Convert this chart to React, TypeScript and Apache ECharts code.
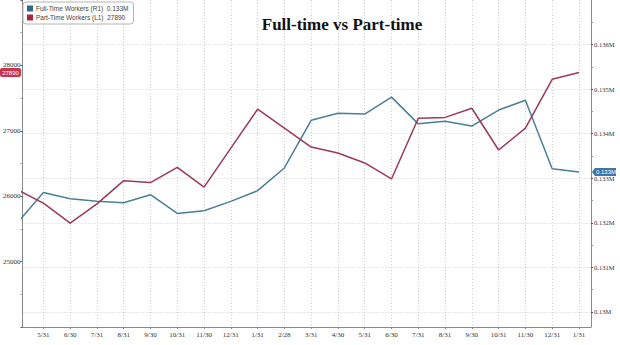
import React, { useEffect, useRef } from 'react';
import * as echarts from 'echarts';

const months = ['4/30', '5/31', '6/30', '7/31', '8/31', '9/30', '10/31', '11/30', '12/31', '1/31', '2/28', '3/31', '4/30', '5/31', '6/30', '7/31', '8/31', '9/30', '10/31', '11/30', '12/31', '1/31'];
// Full-time workers, millions (right axis)
const fullTime = [0.13198, 0.13268, 0.13254, 0.13248, 0.13245, 0.13263, 0.13221, 0.13227, 0.13248, 0.13272, 0.13323, 0.1343, 0.13446, 0.13444, 0.13482, 0.13422, 0.13428, 0.13417, 0.13453, 0.13475, 0.13321, 0.13314];
// Part-time workers (left axis)
const partTime = [26104, 25894, 25589, 25883, 26238, 26208, 26442, 26138, 26736, 27330, 27041, 26751, 26660, 26508, 26264, 27193, 27205, 27345, 26706, 27041, 27787, 27890];
const leftTicks = [24000, 25000, 26000, 27000, 28000, 29000];
const rightTicks = [0.13, 0.131, 0.132, 0.133, 0.134, 0.135, 0.136];
const rightMinor = [0.1295, 0.1305, 0.1315, 0.1325, 0.1335, 0.1345, 0.1355, 0.1365];
const labelIdx = months.map((_, i) => i).slice(1);

const fullName = 'Full-Time Workers (R1)';
const partName = 'Part-Time Workers (L1)';
const fullLast = fullTime[fullTime.length - 1];
const partLast = partTime[partTime.length - 1];
const fmtM = (v: number) => `${+v.toFixed(3)}M`;

const BLUE = '#4a7f98';
const RED = '#9c3a58';

export default function App() {
  const ref = useRef<HTMLDivElement>(null);
  useEffect(() => {
    const chart = echarts.init(ref.current!, null, { renderer: 'svg' });
    const axisFont = 'Liberation Serif';
    chart.setOption({
      animation: false,
      backgroundColor: '#ffffff',
      grid: { left: 22, right: 29, top: 0, bottom: 18 },
      legend: {
        orient: 'vertical',
        left: 23,
        top: 2,
        padding: [3, 5, 3, 4],
        itemGap: 2,
        itemWidth: 6,
        itemHeight: 6,
        icon: 'rect',
        backgroundColor: '#ffffff',
        borderColor: '#b5b5b5',
        borderWidth: 1,
        borderRadius: 3,
        data: [
          { name: fullName, itemStyle: { color: '#2f6a8c' } },
          { name: partName, itemStyle: { color: '#a52640' } },
        ],
        formatter: (name: string) =>
          name === fullName ? `${name}  ${fmtM(fullLast)}` : `${name}  ${partLast}`,
        textStyle: { fontSize: 6.5, color: '#444', fontFamily: 'Liberation Sans', padding: [0, 0, 0, -2] },
      },
      xAxis: {
        type: 'value',
        min: 0.22,
        max: 21.45,
        axisLine: { show: true, lineStyle: { color: '#8a8a8a', width: 1 } },
        axisTick: { show: true, customValues: labelIdx, length: 2, lineStyle: { color: '#8a8a8a' } },
        axisLabel: {
          customValues: labelIdx,
          formatter: (v: number) => months[Math.round(v)],
          fontSize: 7,
          color: '#333',
          fontFamily: axisFont,
          margin: 4,
        },
        splitLine: { show: true, lineStyle: { color: '#d0d0d0', type: [1, 2], width: 1 } },
      },
      yAxis: [
        {
          type: 'value',
          position: 'left',
          min: leftTicks[0],
          max: leftTicks[leftTicks.length - 1],
          interval: 1000,
          axisLine: { show: true, lineStyle: { color: '#8a8a8a', width: 1 } },
          axisTick: { show: true, length: 2, lineStyle: { color: '#555' } },
          minorTick: { show: true, splitNumber: 2, length: 2, lineStyle: { color: '#999' } },
          axisLabel: {
            showMinLabel: false,
            showMaxLabel: false,
            formatter: (v: number) => String(v),
            fontSize: 7,
            color: '#333',
            fontFamily: axisFont,
            margin: 2,
          },
          splitLine: { show: false },
        },
        {
          type: 'value',
          position: 'right',
          min: 0.12966,
          max: 0.137,
          axisLine: { show: true, lineStyle: { color: '#8a8a8a', width: 1 } },
          axisTick: { show: true, customValues: rightTicks, length: 2, lineStyle: { color: '#555' } },
          axisLabel: {
            customValues: rightTicks,
            formatter: (v: number) => fmtM(v),
            fontSize: 6.5,
            color: '#333',
            fontFamily: axisFont,
            margin: 3,
          },
          splitLine: { show: true, lineStyle: { color: '#d0d0d0', type: [1, 2], width: 1 } },
        },
        {
          type: 'value',
          position: 'right',
          min: 0.12966,
          max: 0.137,
          axisLine: { show: false },
          axisTick: { show: true, customValues: rightMinor.filter((v) => v > 0.12966 && v < 0.137), length: 2, lineStyle: { color: '#999' } },
          axisLabel: { show: false },
          splitLine: { show: false },
        },
      ],
      series: [
        {
          name: fullName,
          type: 'line',
          yAxisIndex: 1,
          showSymbol: false,
          color: BLUE,
          lineStyle: { width: 1.5, color: BLUE },
          data: fullTime.map((v, i) => [i, v]),
        },
        {
          name: partName,
          type: 'line',
          yAxisIndex: 0,
          showSymbol: false,
          color: RED,
          lineStyle: { width: 1.5, color: RED },
          data: partTime.map((v, i) => [i, v]),
        },
      ],
    });

    const yRed = chart.convertToPixel({ yAxisIndex: 0 }, partLast) as number;
    const yBlue = chart.convertToPixel({ yAxisIndex: 1 }, fullLast) as number;
    const xRight = chart.convertToPixel({ xAxisIndex: 0 }, 21.45) as number;

    chart.setOption({
      graphic: [
        {
          type: 'text',
          x: 342,
          y: 24,
          z: 100,
          style: {
            text: 'Full-time vs Part-time',
            font: 'bold 17px "Liberation Serif"',
            fill: '#111',
            textAlign: 'center',
            textVerticalAlign: 'middle',
            shadowColor: 'rgba(0,0,0,0.55)',
            shadowBlur: 3,
            shadowOffsetX: 1.5,
            shadowOffsetY: 1.5,
          },
        },
        {
          type: 'rect',
          z: 100,
          shape: { x: 0, y: yRed - 4.5, width: 21, height: 9, r: 2 },
          style: { fill: '#c7354f' },
        },
        {
          type: 'text',
          z: 101,
          x: 10.5,
          y: yRed,
          style: {
            text: String(partLast),
            font: '6px "Liberation Sans"',
            fill: '#fff',
            textAlign: 'center',
            textVerticalAlign: 'middle',
          },
        },
        {
          type: 'polygon',
          z: 100,
          shape: {
            points: [
              [xRight + 1, yBlue],
              [xRight + 4, yBlue - 4],
              [xRight + 25, yBlue - 4],
              [xRight + 25, yBlue + 4],
              [xRight + 4, yBlue + 4],
            ],
          },
          style: { fill: '#3a76a6' },
        },
        {
          type: 'text',
          z: 101,
          x: xRight + 15,
          y: yBlue,
          style: {
            text: fmtM(fullLast),
            font: '6px "Liberation Sans"',
            fill: '#fff',
            textAlign: 'center',
            textVerticalAlign: 'middle',
          },
        },
      ],
    });

    return () => chart.dispose();
  }, []);
  return (
    <div
      ref={ref}
      style={{ position: 'fixed', left: 0, top: 0, width: 620, height: 345, background: '#fff' }}
    />
  );
}
